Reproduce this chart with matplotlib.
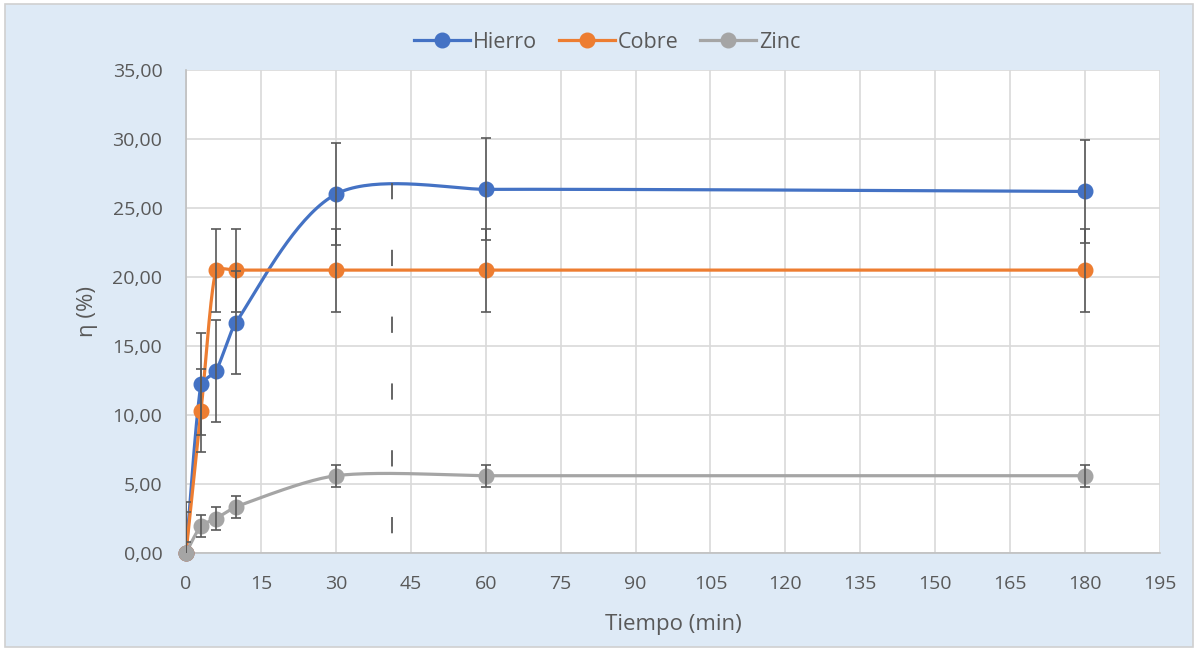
import numpy as np
import matplotlib
matplotlib.use("Agg")
import matplotlib.pyplot as plt
from matplotlib.patches import Rectangle

# data
tiempo = [0, 3, 6, 10, 30, 60, 180]
hierro = [0.0, 12.25, 13.2, 16.7, 26.0, 26.35, 26.2]
cobre = [0.0, 10.3, 20.5, 20.5, 20.5, 20.5, 20.5]
zinc = [0.0, 1.95, 2.5, 3.35, 5.6, 5.6, 5.6]
err_hierro = 3.7
err_cobre = 3.0
err_zinc = 0.8
x_marca = 41.2
y_marca = 26.8

yticks = [0, 5, 10, 15, 20, 25, 30, 35]
xticks = list(range(0, 196, 15))

plt.rcParams['font.family'] = ['Open Sans', 'DejaVu Sans']


def suavizar(x, y, sx=5.0, sy=13.8, n=40):
    # Excel-like smoothed line: cubic Bezier, tangents limited by neighbour segment lengths
    pts = np.column_stack([np.asarray(x, float) * sx, np.asarray(y, float) * sy])
    out = []
    t = np.linspace(0, 1, n)[:, None]
    for i in range(len(pts) - 1):
        p0 = pts[i - 1] if i > 0 else pts[i]
        p1 = pts[i]
        p2 = pts[i + 1]
        p3 = pts[i + 2] if i + 2 < len(pts) else pts[i + 1]
        l01 = np.hypot(*(p1 - p0))
        l12 = np.hypot(*(p2 - p1))
        l23 = np.hypot(*(p3 - p2))
        f1 = min(1.0, l12 / l01) if l01 > 0 else 1.0
        f2 = min(1.0, l12 / l23) if l23 > 0 else 1.0
        c1 = p1 + (p2 - p0) / 6 * f1
        c2 = p2 - (p3 - p1) / 6 * f2
        seg = ((1 - t) ** 3) * p1 + 3 * ((1 - t) ** 2) * t * c1 + 3 * (1 - t) * t ** 2 * c2 + t ** 3 * p2
        out.append(seg)
    out = np.vstack(out)
    return out[:, 0] / sx, out[:, 1] / sy


fig = plt.figure(figsize=(11.98, 6.51), dpi=100)
fig.patch.set_facecolor('white')
fondo = Rectangle((5 / 1198, 4 / 651), 1188 / 1198, 643 / 651, transform=fig.transFigure,
                  facecolor='#DEEAF6', edgecolor='#D0D0D0', linewidth=1.2, zorder=-10)
fig.patches.append(fondo)

ax = fig.add_axes([186 / 1198, 1 - 553 / 651, (1160 - 186) / 1198, (553 - 70) / 651])
ax.set_zorder(1)
ax.set_facecolor('white')

azul = '#4472C4'
naranja = '#ED7D31'
gris = '#A5A5A5'
barra = '#595959'

for serie, col in [(hierro, azul), (cobre, naranja), (zinc, gris)]:
    xs, ys = suavizar(tiempo, serie)
    ax.plot(xs, ys, color=col, lw=2.3, zorder=3)

for serie, col, e in [(hierro, azul, err_hierro), (cobre, naranja, err_cobre), (zinc, gris, err_zinc)]:
    ax.plot(tiempo, serie, 'o', color=col, ms=10.5, zorder=4, clip_on=False)
    ax.errorbar(tiempo, serie, yerr=e, fmt='none', ecolor=barra, elinewidth=1.2,
                capsize=3.6, capthick=1.2, zorder=5)

# dashed marker line, drawn top-down so the first dash sits at the top
ax.plot([x_marca, x_marca], [y_marca, 0], color=barra, lw=1.3, dashes=(9, 28), zorder=5)

# legend handles
h1, = ax.plot([], [], '-o', color=azul, lw=2.3, ms=10.5, label='Hierro')
h2, = ax.plot([], [], '-o', color=naranja, lw=2.3, ms=10.5, label='Cobre')
h3, = ax.plot([], [], '-o', color=gris, lw=2.3, ms=10.5, label='Zinc')
fig.legend(handles=[h1, h2, h3], loc='center', bbox_to_anchor=(0.507, 1 - 42 / 651), ncol=3,
           frameon=False, fontsize=15.5, handlelength=2.6, handletextpad=0.15, columnspacing=1.0,
           labelcolor='#595959')

ax.set_xlim(0, 195)
ax.set_ylim(0, 35)
ax.set_xticks(xticks)
ax.set_yticks(yticks)
ax.set_yticklabels([('%.2f' % v).replace('.', ',') for v in yticks])
ax.tick_params(length=0, labelsize=14, labelcolor='#595959')
ax.tick_params(axis='y', pad=17)
ax.tick_params(axis='x', pad=16)
ax.grid(True, color='#D9D9D9', lw=1.2)
ax.set_axisbelow(True)
for s in ['top', 'right']:
    ax.spines[s].set_visible(False)
for s in ['left', 'bottom']:
    ax.spines[s].set_color('#BFBFBF')
    ax.spines[s].set_linewidth(1.2)

ax.set_xlabel('Tiempo (min)', fontsize=16, color='#595959', labelpad=15)
ax.set_ylabel('η (%)', fontsize=16, color='#595959', labelpad=10)

fig.savefig('out.png', dpi=100)
